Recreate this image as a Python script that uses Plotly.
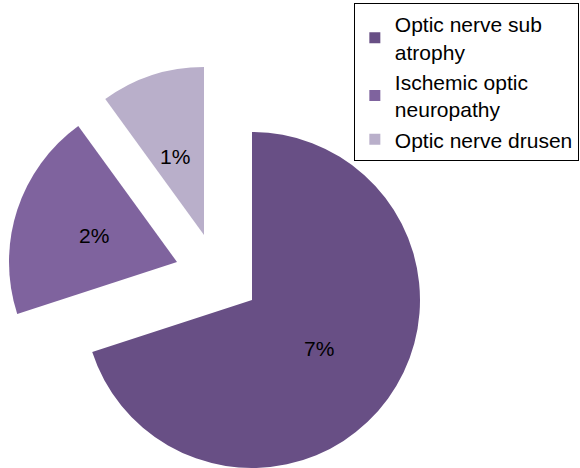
import math
import plotly.graph_objects as go

# ---- data ----
categories = ["Optic nerve sub atrophy", "Ischemic optic neuropathy", "Optic nerve drusen"]
values = [7, 2, 1]
value_labels = ["7%", "2%", "1%"]
legend_labels = ["Optic nerve sub<br>atrophy", "Ischemic optic<br>neuropathy", "Optic nerve drusen"]

# ---- style / layout ----
colors = ["#684F85", "#7F639E", "#B9AFCA"]
W, H = 580, 468
R = 168                      # pie radius in px
CX, CY = 252, 300            # centre of the un-exploded pie (px from top-left)
explode = [(0, 0), (-75, -38), (-48, -65)]   # exploded-slice offsets (px)
label_r = [0.49, 0.52, 0.50]                  # label distance as fraction of R
label_shift = [0, 0, -2]                      # label angle tweak (deg)
FONT = "Arial, Liberation Sans, sans-serif"

fig = go.Figure()
total = sum(values)
cum = 0
for i, v in enumerate(values):
    start = cum / total * 360
    cum += v
    end = cum / total * 360
    mid = (start + end) / 2
    cx = CX + explode[i][0]
    cy = CY + explode[i][1]
    x0, x1 = (cx - R) / W, (cx + R) / W
    y0, y1 = max(0, (H - cy - R) / H), min(1, (H - cy + R) / H)
    cols = ["rgba(0,0,0,0)"] * len(values)
    cols[i] = colors[i]
    fig.add_trace(go.Pie(
        values=values, labels=categories, sort=False, direction="clockwise", rotation=0,
        marker=dict(colors=cols, line=dict(width=0)), textinfo="none", hoverinfo="skip",
        showlegend=False, domain=dict(x=[x0, x1], y=[y0, y1]),
    ))
    a = math.radians(mid + label_shift[i])
    d = label_r[i] * R
    lx = cx + d * math.sin(a)
    ly = cy - d * math.cos(a)
    fig.add_annotation(x=lx / W, y=1 - ly / H, xref="paper", yref="paper",
                       xanchor="center", yanchor="middle",
                       text=value_labels[i], showarrow=False,
                       font=dict(family=FONT, size=21, color="black"))

for i in range(len(values)):
    fig.add_trace(go.Scatter(x=[None], y=[None], mode="markers", name=legend_labels[i],
                             marker=dict(symbol="square", size=11, color=colors[i]),
                             showlegend=True, hoverinfo="skip"))

fig.update_layout(
    width=W, height=H, margin=dict(l=0, r=0, t=0, b=0, autoexpand=False),
    paper_bgcolor="white", plot_bgcolor="white",
    xaxis=dict(visible=False), yaxis=dict(visible=False),
    font=dict(family=FONT, size=21, color="black"),
    legend=dict(x=0.998, y=1 - 3 / H, xanchor="right", yanchor="top",
                bordercolor="black", borderwidth=1, bgcolor="white",
                font=dict(family=FONT, size=21, color="black"),
                tracegroupgap=0, itemwidth=30),
)

fig.write_html("out.html", config={"displayModeBar": False},
               post_script="document.body.style.margin='0';")
